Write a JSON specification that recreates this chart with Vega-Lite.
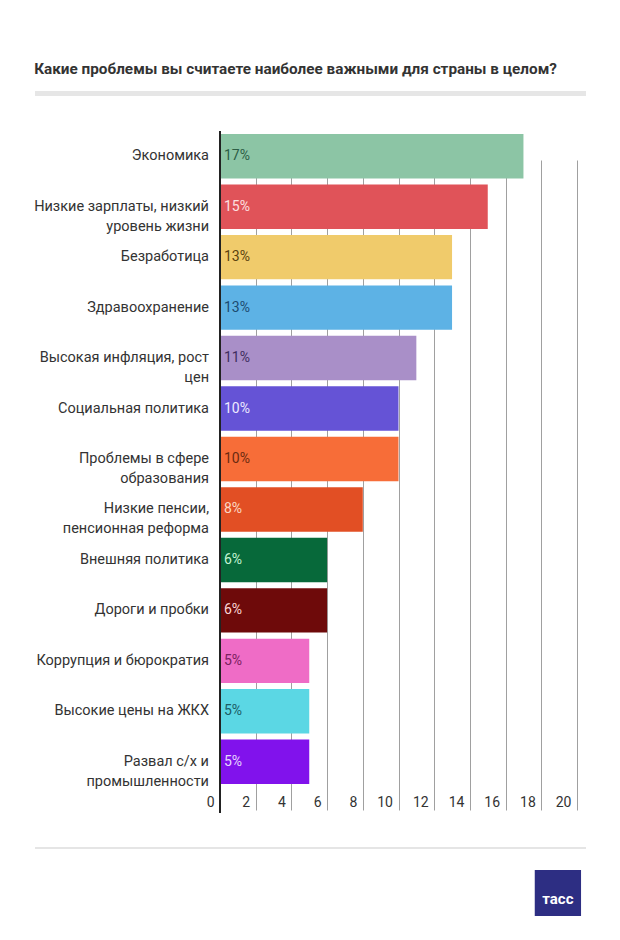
{
  "$schema": "https://vega.github.io/schema/vega-lite/v6.json",
  "padding": {"left": 34, "top": 61, "right": 35, "bottom": 20},
  "background": "white",
  "bounds": "flush",
  "spacing": 35,
  "config": {"font": "Roboto", "view": {"stroke": null}},
  "title": {"text": "Какие проблемы вы считаете наиболее важными для страны в целом?", "anchor": "start", "fontSize": 15.3, "fontWeight": "bold", "color": "#333333", "offset": 14, "font": "Roboto"},
  "datasets": {
    "problems": [
      {"problem": "Экономика", "value": 17, "label": "17%"},
      {"problem": "Низкие зарплаты, низкий\nуровень жизни", "value": 15, "label": "15%"},
      {"problem": "Безработица", "value": 13, "label": "13%"},
      {"problem": "Здравоохранение", "value": 13, "label": "13%"},
      {"problem": "Высокая инфляция, рост\nцен", "value": 11, "label": "11%"},
      {"problem": "Социальная политика", "value": 10, "label": "10%"},
      {"problem": "Проблемы в сфере\nобразования", "value": 10, "label": "10%"},
      {"problem": "Низкие пенсии,\nпенсионная реформа", "value": 8, "label": "8%"},
      {"problem": "Внешняя политика", "value": 6, "label": "6%"},
      {"problem": "Дороги и пробки", "value": 6, "label": "6%"},
      {"problem": "Коррупция и бюрократия", "value": 5, "label": "5%"},
      {"problem": "Высокие цены на ЖКХ", "value": 5, "label": "5%"},
      {"problem": "Развал с/х и\nпромышленности", "value": 5, "label": "5%"}
    ]
  },
  "vconcat": [
    {
      "width": 551,
      "height": 5,
      "data": {"values": [{"a": 0, "b": 1}]},
      "mark": {"type": "rect", "color": "#e6e6e6"},
      "encoding": {
        "x": {"field": "a", "type": "quantitative", "scale": {"domain": [0, 1]}, "axis": null},
        "x2": {"field": "b"}
      }
    },
    {
      "width": 551,
      "height": 682,
      "data": {"name": "problems"},
      "layer": [
        {
          "mark": {"type": "bar"},
          "encoding": {
            "y": {"field": "problem", "type": "nominal", "sort": null, "axis": null, "scale": {"range": [3, 653], "paddingInner": 0.12, "paddingOuter": 0}},
            "x": {"field": "value", "type": "quantitative", "scale": {"domain": [0, 20], "range": [185, 542], "nice": false},
              "axis": {"values": [0, 2, 4, 6, 8, 10, 12, 14, 16, 18, 20], "grid": true, "gridColor": "#a0a0a0", "gridWidth": 1, "domain": false, "ticks": false, "tickSize": 0, "labelPadding": -11, "labelBaseline": "middle", "labelAlign": "right", "labelOffset": -6, "labelFontSize": 14, "labelColor": "#333333", "labelFont": "Roboto", "labelFlush": false, "labelOverlap": false, "title": null}},
            "color": {"field": "problem", "type": "nominal", "sort": null, "legend": null,
              "scale": {"range": ["#8cc5a5", "#e05359", "#f0cb6b", "#5db2e5", "#a98fc8", "#6553d6", "#f76d38", "#e24f24", "#07693a", "#6e0a0a", "#ef6cc6", "#5bd7e4", "#8112ec"]}}
          }
        },
        {
          "data": {"values": [{}]},
          "mark": {"type": "rule", "color": "#222222", "strokeWidth": 2},
          "encoding": {"x": {"datum": 0}}
        },
        {
          "mark": {"type": "text", "align": "right", "baseline": "middle", "dx": -11, "fontSize": 14.5, "color": "#333333", "lineBreak": "\n", "lineHeight": 20, "font": "Roboto"},
          "encoding": {
            "y": {"field": "problem", "type": "nominal", "sort": null},
            "x": {"datum": 0},
            "text": {"field": "problem"}
          }
        },
        {
          "mark": {"type": "text", "align": "left", "baseline": "middle", "dx": 4, "fontSize": 14, "font": "Roboto"},
          "encoding": {
            "y": {"field": "problem", "type": "nominal", "sort": null},
            "x": {"datum": 0},
            "text": {"field": "label"},
            "color": {"field": "problem", "type": "nominal", "sort": null, "legend": null,
              "scale": {"range": ["#2d5e45", "#fde0e0", "#5a4210", "#1c4a70", "#3f2d5e", "#eeeaff", "#6a2a10", "#fcd9c4", "#c4f5d4", "#fcd6d6", "#7a2060", "#1c5c66", "#e6d4ff"]}}
          }
        }
      ],
      "resolve": {"scale": {"color": "independent"}}
    },
    {
      "width": 551,
      "height": 68,
      "data": {"values": [{}]},
      "layer": [
        {
          "mark": {"type": "rule", "color": "#dddddd", "strokeWidth": 1.5},
          "encoding": {"y": {"datum": 1, "type": "quantitative", "scale": {"domain": [0, 1]}, "axis": null}}
        },
        {
          "mark": {"type": "rect", "color": "#2d2e83"},
          "encoding": {
            "x": {"datum": 0.907, "type": "quantitative", "scale": {"domain": [0, 1]}, "axis": null},
            "x2": {"datum": 0.991},
            "y": {"datum": 0.676, "type": "quantitative"},
            "y2": {"datum": 0}
          }
        },
        {
          "mark": {"type": "text", "color": "white", "fontWeight": "bold", "fontSize": 15, "align": "center", "baseline": "alphabetic", "font": "Roboto"},
          "encoding": {
            "x": {"datum": 0.949, "type": "quantitative"},
            "y": {"datum": 0.18, "type": "quantitative"},
            "text": {"value": "тасс"}
          }
        }
      ]
    }
  ]
}
